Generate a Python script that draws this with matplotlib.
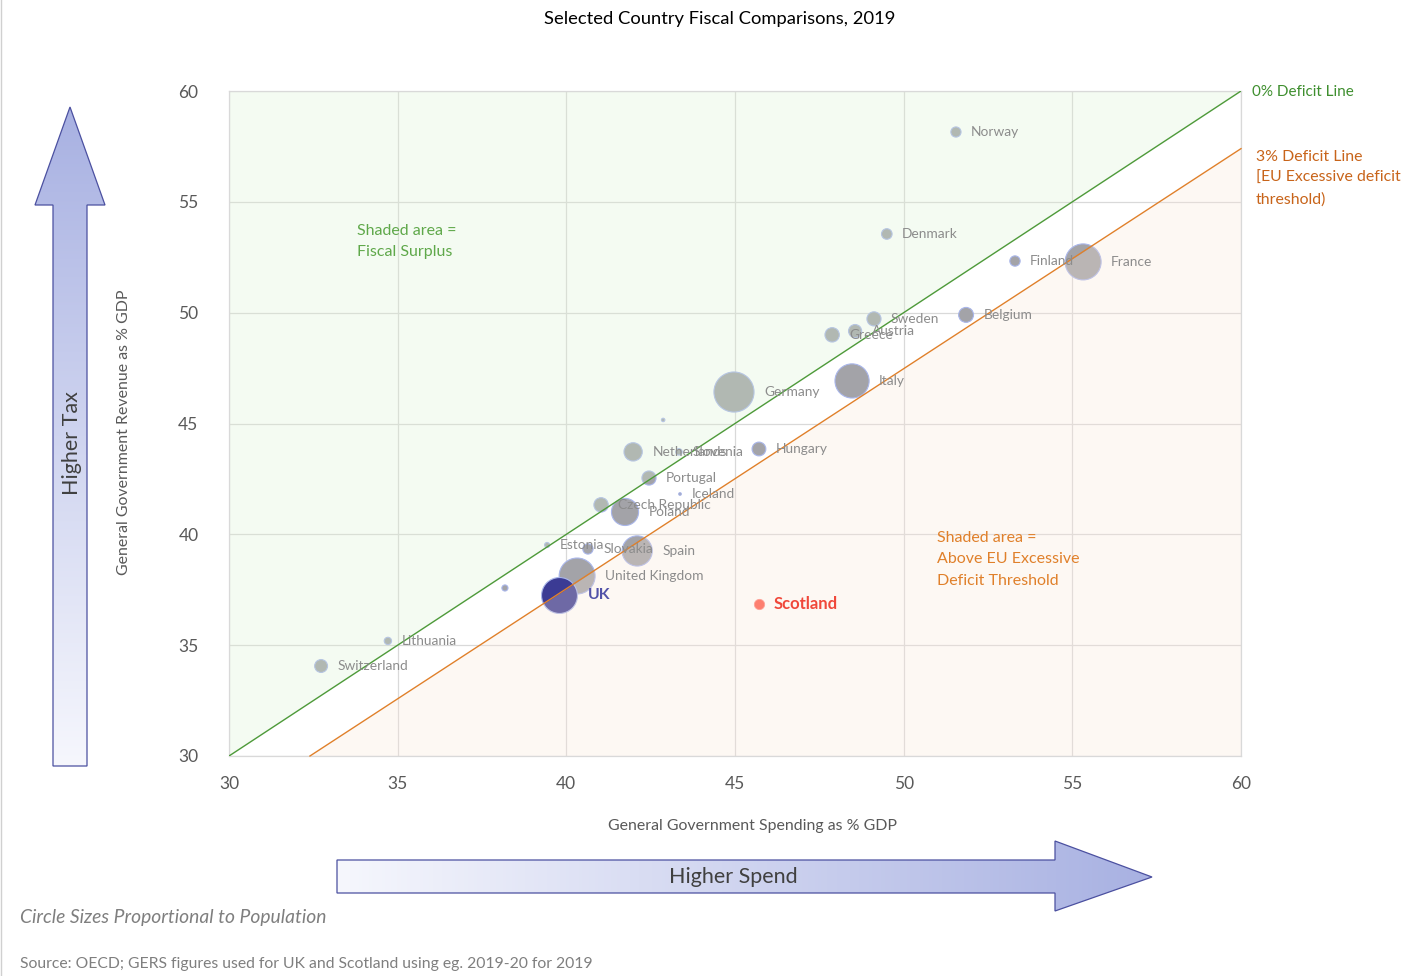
import numpy as np
import matplotlib
matplotlib.use('Agg')
import matplotlib.pyplot as plt
from matplotlib.patches import Polygon
from matplotlib.colors import LinearSegmentedColormap

plt.rcParams['font.family'] = ['Lato', 'DejaVu Sans']

countries = ['Norway', 'Denmark', 'Finland', 'France', 'Belgium', 'Sweden', 'Austria',
             'Greece', 'Italy', 'Germany', '', 'Netherlands', 'Slovenia', 'Hungary',
             'Portugal', 'Iceland', 'Czech Republic', 'Poland', 'Estonia', 'Slovakia',
             'Spain', 'United Kingdom', '', 'Lithuania', 'Switzerland']
spending = [51.55, 49.5, 53.3, 55.32, 51.85, 49.12, 48.56, 47.88, 48.47, 44.97, 42.87,
            41.98, 43.34, 45.71, 42.45, 43.37, 41.03, 41.74, 39.43, 40.64, 42.1, 40.32,
            38.18, 34.71, 32.73]
revenue = [58.15, 53.55, 52.33, 52.29, 49.9, 49.72, 49.17, 49.0, 46.92, 46.42, 45.16,
           43.72, 43.72, 43.85, 42.54, 41.82, 41.33, 41.01, 39.52, 39.34, 39.25, 38.12,
           37.58, 35.19, 34.06]
population = [5.35, 5.8, 5.5, 67.0, 11.5, 10.3, 8.9, 10.7, 60.3, 83.1, 0.62, 17.3, 2.1,
              9.8, 10.3, 0.36, 10.7, 38.0, 1.33, 5.45, 47.1, 66.8, 1.92, 2.79, 8.6]

uk_spending, uk_revenue, uk_population = [39.78], [37.27], [66.8]
scot_spending, scot_revenue, scot_population = [45.71], [36.86], [5.46]

# deficit lines
zero_line_x, zero_line_y = [30, 60], [30, 60]
three_line_x, three_line_y = [32.4, 60], [30, 57.4]

ticks = [30, 35, 40, 45, 50, 55, 60]

W, H = 1421, 976
fig = plt.figure(figsize=(W / 100, H / 100), dpi=100)


def diam_px(pop):
    return 4.4 * np.sqrt(np.array(pop))


def size_pt(pop):
    return (diam_px(pop) * 0.72) ** 2


# decoration layer in pixel coords
deco = fig.add_axes([0, 0, 1, 1], zorder=0)
deco.set_facecolor('none')
deco.axis('off')

ax = fig.add_axes([229 / W, 1 - 756 / H, (1241 - 229) / W, (756 - 91) / H], zorder=1)
ax.set_xlim(30, 60)
ax.set_ylim(30, 60)
ax.set_xticks(ticks)
ax.set_yticks(ticks)
ax.grid(True, color='#d9d9d9', lw=0.9, zorder=0)
ax.set_axisbelow(True)
for s in ax.spines.values():
    s.set_color('#d9d9d9')
    s.set_linewidth(0.9)
ax.tick_params(length=0, labelsize=12.5, labelcolor='#595959')
ax.tick_params(axis='x', pad=14.5)
ax.tick_params(axis='y', pad=22)

# bubbles
ax.scatter(spending, revenue, s=size_pt(population), color='#a3a3a8',
           edgecolor='#a9b6ea', linewidth=0.8, zorder=2)
ax.scatter(uk_spending, uk_revenue, s=size_pt(uk_population), color='#3b3b94',
           edgecolor='#a9b6ea', linewidth=0.8, zorder=2.2)
ax.scatter(scot_spending, scot_revenue, s=size_pt(scot_population), color='#ff5a4a',
           edgecolor='#ff8a80', linewidth=0.6, zorder=2.2)

# shaded regions (drawn over bubbles, translucent)
ax.fill_between(zero_line_x, zero_line_y, 60, color='#daf1cf', alpha=0.27, lw=0, zorder=2.5)
ax.fill_between(three_line_x, three_line_y, 30, color='#fbe6d6', alpha=0.27, lw=0, zorder=2.5)
ax.plot(zero_line_x, zero_line_y, color='#4e9a3a', lw=1.0, zorder=3)
ax.plot(three_line_x, three_line_y, color='#e0802a', lw=1.0, zorder=3, clip_on=False)

# labels
for name, x, y, d in zip(countries, spending, revenue, diam_px(population)):
    if name:
        ax.annotate(name, (x, y), xytext=((d / 2 + 10) * 0.72, 0), textcoords='offset points',
                    va='center', ha='left', fontsize=9.9, color='#8c8c8c', zorder=4)
ax.annotate('UK', (uk_spending[0], uk_revenue[0]),
            xytext=((diam_px(uk_population)[0] / 2 + 11) * 0.72, 0), textcoords='offset points',
            va='center', ha='left', fontsize=11.3, fontweight='bold', color='#5252a8', zorder=4)
ax.annotate('Scotland', (scot_spending[0], scot_revenue[0]),
            xytext=((diam_px(scot_population)[0] / 2 + 10) * 0.72, 0), textcoords='offset points',
            va='center', ha='left', fontsize=12, fontweight='bold', color='#f0483a', zorder=4)

ax.text(0.126, 0.80, 'Shaded area =\nFiscal Surplus', transform=ax.transAxes, fontsize=11.5,
        color='#5fa84a', va='top', ha='left', linespacing=1.65, zorder=4)
ax.text(0.7, 0.338, 'Shaded area =\nAbove EU Excessive\nDeficit Threshold', transform=ax.transAxes,
        fontsize=11.5, color='#e0802a', va='top', ha='left', linespacing=1.65, zorder=4)

# arrows with gradient fills
cmap = LinearSegmentedColormap.from_list('arr', ['#f6f7fd', '#a8b1e2'])

up = Polygon([(70, 107), (105, 205), (87, 205), (87, 766), (53, 766), (53, 205), (35, 205)],
             closed=True, facecolor='none', edgecolor='#4b50a0', lw=0.9, zorder=3)
deco.add_patch(up)
im = deco.imshow(np.linspace(1, 0, 256).reshape(-1, 1), cmap=cmap, aspect='auto',
                 extent=[35, 105, 766, 107], origin='upper', zorder=2)
im.set_clip_path(up)

right = Polygon([(337, 860), (1055, 860), (1055, 841), (1152, 877), (1055, 911), (1055, 893),
                 (337, 893)], closed=True, facecolor='none', edgecolor='#4b50a0', lw=0.9,
                zorder=3)
deco.add_patch(right)
im2 = deco.imshow(np.linspace(0, 1, 256).reshape(1, -1), cmap=cmap, aspect='auto',
                  extent=[337, 1152, 911, 841], origin='upper', zorder=2)
im2.set_clip_path(right)

deco.text(72, 443, 'Higher Tax', rotation=90, ha='center', va='center', fontsize=15.5,
          color='#404040')
deco.text(733, 877, 'Higher Spend', ha='center', va='center', fontsize=15.5, color='#404040')

deco.text(720, 19, 'Selected Country Fiscal Comparisons, 2019', ha='center', va='center',
          fontsize=13.2, color='#000000')
deco.text(124, 432, 'General Government Revenue as % GDP', rotation=90, ha='center',
          va='center', fontsize=11.4, color='#595959')
deco.text(752, 826, 'General Government Spending as % GDP', ha='center', va='center',
          fontsize=11.4, color='#595959')
deco.text(1252, 92, '0% Deficit Line', ha='left', va='center', fontsize=11, color='#3f8f2f')
deco.text(1256, 178, '3% Deficit Line\n[EU Excessive deficit\nthreshold)', ha='left',
          va='center', fontsize=11.4, color='#c8641a', linespacing=1.65)
deco.text(20, 917, 'Circle Sizes Proportional to Population', ha='left', va='center',
          fontsize=13.9, style='italic', color='#7f7f7f')
deco.text(20, 964, 'Source: OECD; GERS figures used for UK and Scotland using eg. 2019-20 for 2019',
          ha='left', va='center', fontsize=11.3, color='#7f7f7f')
deco.plot([0.5, 0.5], [0, 976], color='#d0d0d0', lw=1)

deco.set_xlim(0, W)
deco.set_ylim(H, 0)

fig.savefig('out.png', dpi=100)
